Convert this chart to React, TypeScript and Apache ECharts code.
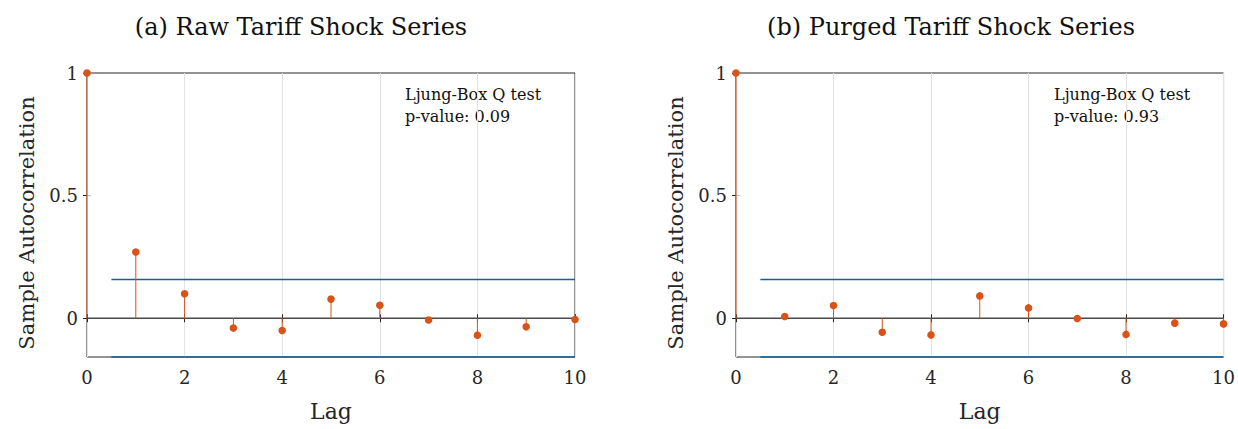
import React, { useEffect, useRef } from "react";
import * as echarts from "echarts";

// Lags shown on the horizontal axis
const lags = [0, 1, 2, 3, 4, 5, 6, 7, 8, 9, 10];

// Sample autocorrelations of the raw and purged tariff shock series
const rawAcf = [1, 0.27, 0.1, -0.04, -0.05, 0.078, 0.053, -0.007, -0.069, -0.035, -0.005];
const purgedAcf = [1, 0.007, 0.052, -0.057, -0.068, 0.091, 0.042, -0.001, -0.066, -0.02, -0.023];

// Approximate 95% confidence bound and Ljung-Box p-values
const confBound = 0.158;
const boundStartLag = 0.5;
const pValues = ["0.09", "0.93"];

const panelTitles = ["(a) Raw Tariff Shock Series", "(b) Purged Tariff Shock Series"];
const yTicks = [0, 0.5, 1];
const xTickLabels = ["0", "2", "4", "6", "8", "10"];

const FONT = "'DejaVu Serif', 'Liberation Serif', serif";
const STEM = "#d95319";
const BOUND = "#0b62a0";
const AXIS = "#262626";

export default function App() {
  const ref = useRef<HTMLDivElement>(null);

  useEffect(() => {
    if (!ref.current) return;
    const chart = echarts.init(ref.current, undefined, { renderer: "svg" });

    const gridLefts = [87, 736];
    const titleCenters = [296, 946];
    const noteLefts = [405, 1054];
    const yNameX = [27, 676];
    const seriesData = [rawAcf, purgedAcf];
    const yMin = -confBound;

    const grids: any[] = [];
    const xAxes: any[] = [];
    const yAxes: any[] = [];
    const series: any[] = [];
    const titles: any[] = [];
    const graphics: any[] = [];

    gridLefts.forEach((left, i) => {
      grids.push({
        left,
        top: 73,
        width: 488,
        height: 284,
        show: true,
        borderColor: AXIS,
        borderWidth: 1,
        backgroundColor: "transparent",
      });
      // bottom axis with labels and vertical grid lines
      xAxes.push({
        type: "value",
        gridIndex: i,
        position: "bottom",
        min: 0,
        max: 10,
        interval: 2,
        name: "Lag",
        nameLocation: "middle",
        nameGap: 43,
        nameTextStyle: { fontFamily: FONT, fontSize: 22, color: AXIS },
        axisLine: { show: false },
        axisTick: { show: true, inside: true, length: 4, lineStyle: { color: AXIS } },
        axisLabel: {
          margin: 11,
          fontFamily: FONT,
          fontSize: 18,
          color: AXIS,
          formatter: (v: number) => xTickLabels[Math.round(v / 2)] ?? "",
        },
        splitLine: { show: true, lineStyle: { color: "#e3e3e3", width: 1 } },
      });
      // top axis carrying only the inward ticks of the box
      xAxes.push({
        type: "value",
        gridIndex: i,
        position: "top",
        min: 0,
        max: 10,
        interval: 2,
        axisLine: { show: false },
        axisTick: { show: true, inside: true, length: 4, lineStyle: { color: AXIS } },
        axisLabel: { show: false },
        splitLine: { show: false },
      });
      yAxes.push({
        type: "value",
        gridIndex: i,
        position: "left",
        min: yMin,
        max: 1,
        axisLine: { show: false },
        axisTick: {
          show: true,
          inside: true,
          length: 4,
          customValues: yTicks,
          lineStyle: { color: "#bdbdbd" },
        },
        axisLabel: {
          margin: 9,
          fontFamily: FONT,
          fontSize: 18,
          color: AXIS,
          customValues: yTicks,
          formatter: (v: number) => String(v),
        },
        splitLine: { show: false },
      });
      yAxes.push({
        type: "value",
        gridIndex: i,
        position: "right",
        min: yMin,
        max: 1,
        axisLine: { show: false },
        axisTick: {
          show: true,
          inside: true,
          length: 4,
          customValues: yTicks,
          lineStyle: { color: AXIS },
        },
        axisLabel: { show: false },
        splitLine: { show: false },
      });

      const xBottom = i * 2;
      const yLeft = i * 2;

      // zero reference line
      series.push({
        type: "line",
        xAxisIndex: xBottom,
        yAxisIndex: yLeft,
        data: [
          [lags[0], 0],
          [lags[lags.length - 1], 0],
        ],
        symbol: "none",
        lineStyle: { color: "#4a4a4a", width: 1.3 },
        silent: true,
        z: 2,
      });
      // upper and lower confidence bounds
      [confBound, -confBound].forEach((b) => {
        series.push({
          type: "line",
          xAxisIndex: xBottom,
          yAxisIndex: yLeft,
          data: [
            [boundStartLag, b],
            [lags[lags.length - 1], b],
          ],
          symbol: "none",
          clip: false,
          lineStyle: { color: BOUND, width: 1.3 },
          silent: true,
          z: 3,
        });
      });
      // stems with filled markers
      series.push({
        type: "custom",
        xAxisIndex: xBottom,
        yAxisIndex: yLeft,
        clip: false,
        z: 5,
        data: lags.map((l, k) => [l, seriesData[i][k]]),
        renderItem: (_params: any, api: any) => {
          const x = api.value(0);
          const y = api.value(1);
          const base = api.coord([x, 0]);
          const top = api.coord([x, y]);
          return {
            type: "group",
            children: [
              {
                type: "line",
                shape: { x1: base[0], y1: base[1], x2: top[0], y2: top[1] },
                style: { stroke: STEM, lineWidth: 1 },
              },
              {
                type: "circle",
                shape: { cx: top[0], cy: top[1], r: 3.8 },
                style: { fill: STEM, stroke: null },
              },
            ],
          };
        },
      });

      titles.push({
        text: panelTitles[i],
        left: titleCenters[i],
        top: 10,
        textAlign: "center",
        textStyle: { fontFamily: FONT, fontSize: 24, fontWeight: "normal", color: "#111" },
      });

      // vertical axis title
      graphics.push({
        type: "text",
        x: yNameX[i],
        y: 223,
        rotation: Math.PI / 2,
        style: {
          text: "Sample Autocorrelation",
          font: `21px ${FONT}`,
          fill: AXIS,
          align: "center",
          verticalAlign: "middle",
        },
      });

      graphics.push({
        type: "text",
        left: noteLefts[i],
        top: 83,
        style: {
          text: "Ljung-Box Q test\np-value: " + pValues[i],
          font: `16px ${FONT}`,
          lineHeight: 22,
          fill: "#111",
        },
      });
    });

    chart.setOption({
      animation: false,
      backgroundColor: "#ffffff",
      title: titles,
      grid: grids,
      xAxis: xAxes,
      yAxis: yAxes,
      series,
      graphic: graphics,
    });

    return () => chart.dispose();
  }, []);

  return (
    <div
      ref={ref}
      style={{ position: "fixed", left: 0, top: 0, width: 1238, height: 429, background: "#fff" }}
    />
  );
}
